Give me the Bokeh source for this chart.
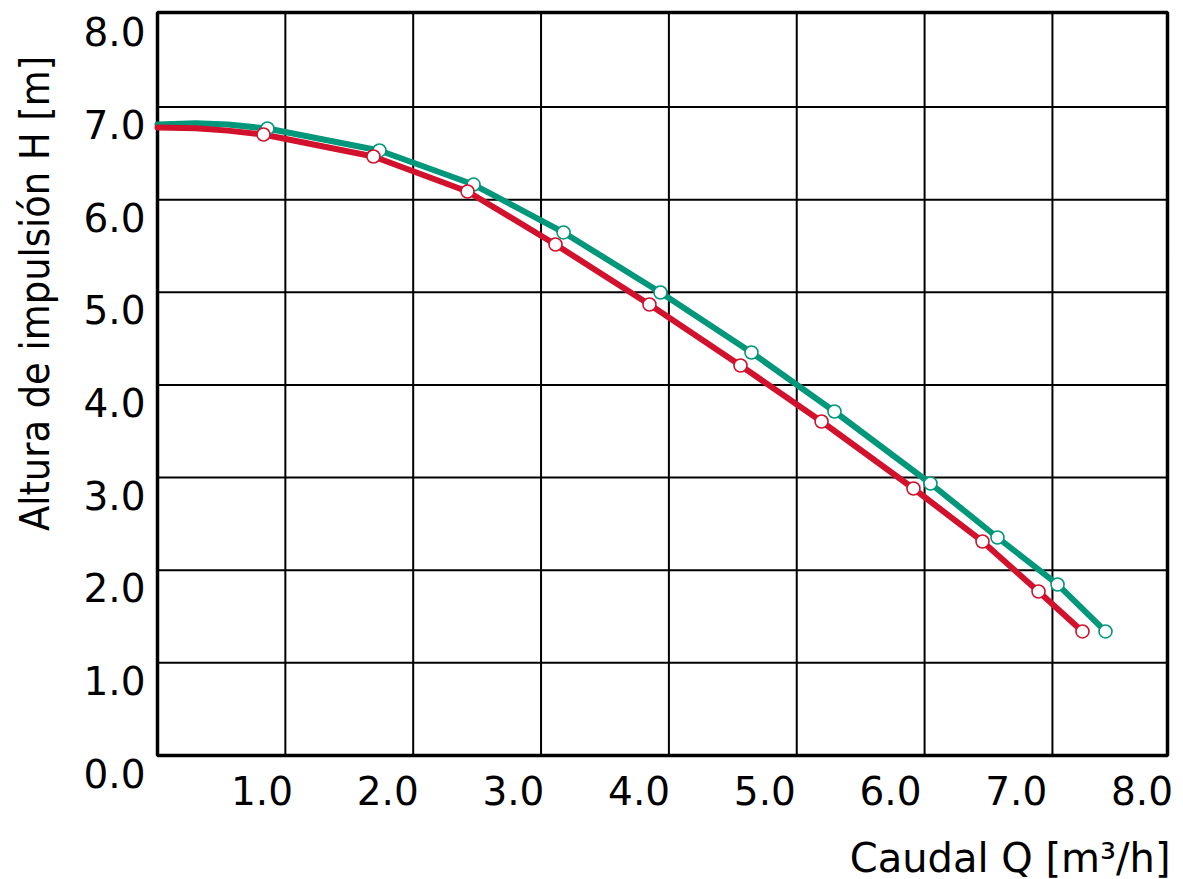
from math import pi
from bokeh.plotting import figure
from bokeh.models import Range1d
from bokeh.core.properties import value
from bokeh.embed import file_html
from bokeh.resources import INLINE

# ---- data ----
x_ticks = [1, 2, 3, 4, 5, 6, 7, 8]
y_ticks = [0, 1, 2, 3, 4, 5, 6, 7, 8]
grid_vals = [1, 2, 3, 4, 5, 6, 7]
x_min, x_max = 0.0, 7.9     # visible axis extent (Q)
y_min, y_max = 0.0, 8.02    # visible axis extent (H)

green_line_q = [0.0, 0.30, 0.55, 0.86, 1.736, 2.472, 3.176, 3.934, 4.646, 5.295, 6.046, 6.570, 7.040, 7.415]
green_line_h = [6.81, 6.825, 6.81, 6.768, 6.531, 6.163, 5.646, 4.998, 4.35, 3.713, 2.936, 2.353, 1.846, 1.339]
green_pts_q = [0.86, 1.736, 2.472, 3.176, 3.934, 4.646, 5.295, 6.046, 6.570, 7.040, 7.415]
green_pts_h = [6.768, 6.531, 6.163, 5.646, 4.998, 4.35, 3.713, 2.936, 2.353, 1.846, 1.339]

red_line_q = [0.0, 0.30, 0.55, 0.829, 1.689, 2.425, 3.113, 3.848, 4.560, 5.194, 5.913, 6.453, 6.891, 7.235]
red_line_h = [6.78, 6.77, 6.745, 6.703, 6.466, 6.088, 5.516, 4.868, 4.21, 3.605, 2.882, 2.31, 1.77, 1.339]
red_pts_q = [0.829, 1.689, 2.425, 3.113, 3.848, 4.560, 5.194, 5.913, 6.453, 6.891, 7.235]
red_pts_h = [6.703, 6.466, 6.088, 5.516, 4.868, 4.21, 3.605, 2.882, 2.31, 1.77, 1.339]

x_title = "Caudal Q [m³/h]"
y_title = "Altura de impulsión H [m]"

GREEN = "#00977a"
RED = "#d2112c"
FONT = "DejaVu Sans"

W, H = 1183, 879
# pixel layout of the chart area inside the canvas
L, R, T, B = 157, 1167, 12, 755
sx = (R - L) / (x_max - x_min)
sy = (B - T) / (y_max - y_min)
xr = Range1d(x_min - L / sx, x_min + (W - L) / sx)
yr = Range1d(y_min - (H - B) / sy, y_min + B / sy)

p = figure(width=W, height=H, output_backend="svg", toolbar_location=None,
           x_range=xr, y_range=yr, x_axis_location=None, y_axis_location=None,
           min_border=0)
p.min_border_left = p.min_border_right = p.min_border_top = p.min_border_bottom = 0
p.background_fill_color = "white"
p.border_fill_color = "white"
p.outline_line_color = None
p.grid.visible = False

# tick labels sit slightly left of / below the grid lines in the reference
a, b = 0.9833, -0.166
p.extra_x_ranges = {"xlab": Range1d((xr.start - b) / a, (xr.end - b) / a)}
p.extra_y_ranges = {"ylab": Range1d(yr.start + 0.19, yr.end + 0.19)}

# grid
n = len(grid_vals)
p.segment(x0=grid_vals, y0=[y_min] * n, x1=grid_vals, y1=[y_max] * n,
          line_color="black", line_width=2)
p.segment(x0=[x_min] * n, y0=grid_vals, x1=[x_max] * n, y1=grid_vals,
          line_color="black", line_width=2)
# frame
p.quad(left=[x_min], right=[x_max], bottom=[y_min], top=[y_max],
       fill_color=None, line_color="black", line_width=3.5)

# tick labels
p.text(x=x_ticks, y=[y_min] * len(x_ticks), x_range_name="xlab",
       text=["%.1f" % v for v in x_ticks], y_offset=20,
       text_align="center", text_baseline="top",
       text_font=value(FONT), text_font_size="39px", text_color="black")
p.text(x=[x_min] * len(y_ticks), y=y_ticks, y_range_name="ylab",
       text=["%.1f" % v for v in y_ticks], x_offset=-12,
       text_align="right", text_baseline="middle",
       text_font=value(FONT), text_font_size="39px", text_color="black")

# axis titles
p.text(x=[x_min + (1170 - L) / sx], y=[y_min - (857 - B) / sy], text=[x_title],
       text_align="right", text_baseline="middle",
       text_font=value(FONT), text_font_size="40px", text_color="black")
p.text(x=[x_min + (34 - L) / sx], y=[y_min + (B - 293) / sy], text=[y_title],
       angle=pi / 2, text_align="center", text_baseline="middle",
       text_font=value("DejaVu Sans Condensed"), text_font_size="41px", text_color="black")

# curves
p.line(green_line_q, green_line_h, line_color=GREEN, line_width=6, line_join="round", line_cap="round")
p.line(red_line_q, red_line_h, line_color=RED, line_width=6, line_join="round", line_cap="round")
p.scatter(green_pts_q, green_pts_h, marker="circle", size=13, fill_color="white",
          line_color=GREEN, line_width=1.6)
p.scatter(red_pts_q, red_pts_h, marker="circle", size=13, fill_color="white",
          line_color=RED, line_width=1.6)

open("out.html", "w").write(file_html(p, INLINE))
